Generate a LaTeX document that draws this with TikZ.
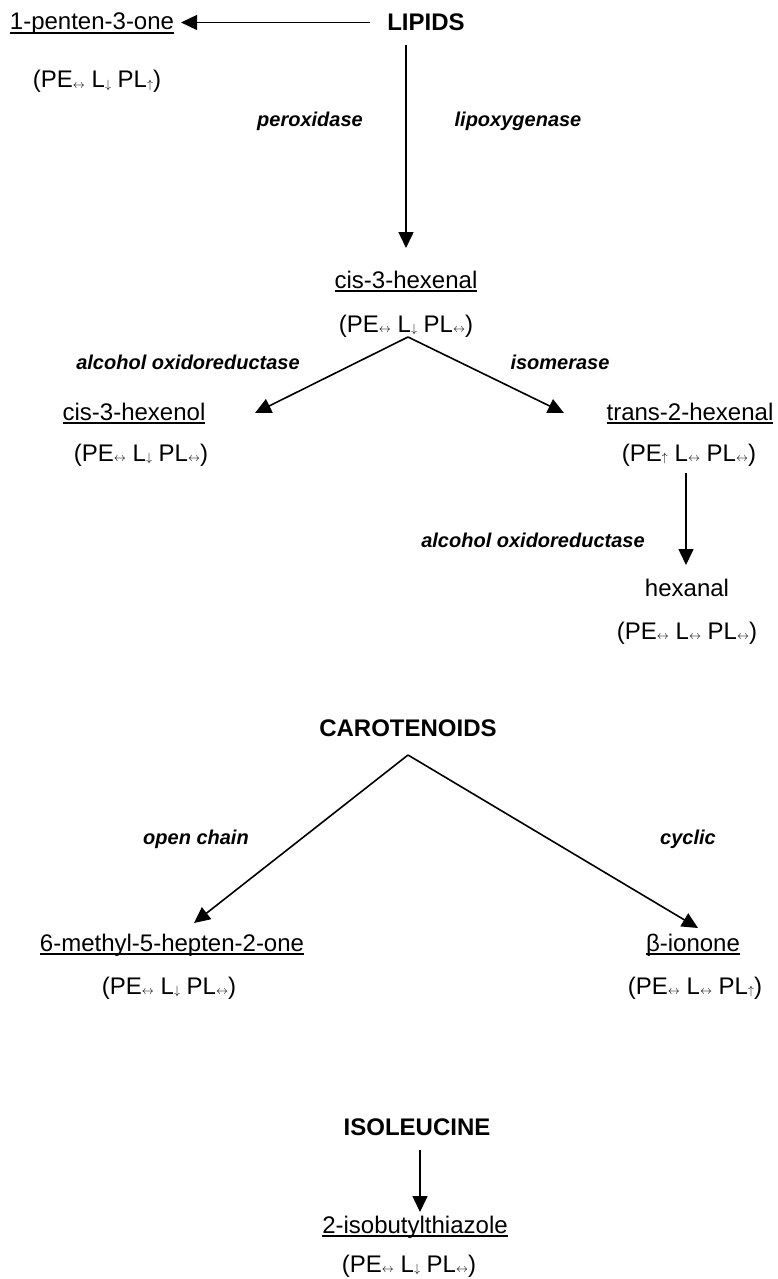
\documentclass[tikz,border=0pt]{standalone}
\usepackage{fontspec}
\setmainfont{Liberation Sans}
\usetikzlibrary{arrows.meta,calc}
\newcommand\ulx[1]{\setbox0=\hbox{#1}\rlap{\rule[-3.8pt]{\wd0}{1.8pt}}\box0}
\newcommand\sbx[1]{\raisebox{-0.5pt}{\fontsize{12}{12}\selectfont$#1$}}
\newcommand\PEx[3]{(PE\sbx{#1} L\sbx{#2} PL\sbx{#3})}
\newcommand\LR{\leftrightarrow}
\newcommand\DN{\downarrow}
\newcommand\UP{\uparrow}
\begin{document}
\begin{tikzpicture}[x=1pt,y=-1pt,
  every node/.style={inner sep=0pt, outer sep=0pt, anchor=base, text height=17pt, text depth=5pt},
  chem/.style={font=\fontsize{24}{28}\selectfont},
  src/.style={font=\fontsize{24}{28}\selectfont\bfseries},
  enz/.style={font=\fontsize{20}{24}\selectfont\bfseries\itshape},
  arr/.style={line width=1.6pt, -{Triangle[length=16pt,width=15pt]}}]
\useasboundingbox (0,0) rectangle (778,1279);
\node[chem] (pent) at (92,30) {\ulx{1-penten-3-one}};
\node[src] (lipids) at (426,31) {LIPIDS};
\node[chem] (pe1) at (97,88) {\PEx{\LR}{\DN}{\UP}};
\node[enz] (perox) at (310,127) {peroxidase};
\node[enz] (lipox) at (518,127) {lipoxygenase};
\node[chem] (hexenal) at (406,288) {\ulx{cis-3-hexenal}};
\node[chem] (pe2) at (406,332) {\PEx{\LR}{\DN}{\LR}};
\node[enz] (aor1) at (188,369) {alcohol oxidoreductase};
\node[enz] (isom) at (560,369) {isomerase};
\node[chem] (hexenol) at (134,420) {\ulx{cis-3-hexenol}};
\node[chem] (t2h) at (690,420) {\ulx{trans-2-hexenal}};
\node[chem] (pe3) at (141,461) {\PEx{\LR}{\DN}{\LR}};
\node[chem] (pe4) at (689,461) {\PEx{\UP}{\LR}{\LR}};
\node[enz] (aor2) at (533,547) {alcohol oxidoreductase};
\node[chem] (hexanal) at (687,596) {hexanal};
\node[chem] (pe5) at (687,639) {\PEx{\LR}{\LR}{\LR}};
\node[src] (carot) at (408,736) {CAROTENOIDS};
\node[enz] (open) at (196,844) {open chain};
\node[enz] (cyc) at (688,844) {cyclic};
\node[chem] (mhep) at (172,951) {\ulx{6-methyl-5-hepten-2-one}};
\node[chem] (ion) at (693,951) {\ulx{β-ionone}};
\node[chem] (pe6) at (169,994) {\PEx{\LR}{\DN}{\LR}};
\node[chem] (pe7) at (695,994) {\PEx{\LR}{\LR}{\UP}};
\node[src] (isol) at (417,1135) {ISOLEUCINE};
\node[chem] (ibt) at (415,1233) {\ulx{2-isobutylthiazole}};
\node[chem] (pe8) at (409,1272) {\PEx{\LR}{\DN}{\LR}};
% connectors
\draw[arr, shorten <=17pt, shorten >=7pt] ($(lipids.west)+(0,-2.5)$) -- ($(lipids.west -| pent.east)+(0,-2.5)$);
\draw[arr, shorten <=9pt, shorten >=23pt] (hexenal.north |- lipids.south) -- (hexenal.north);
\draw[arr] ($(pe2.south)+(2,0)$) -- ($(hexenol.center)+(121,-1)$);
\draw[arr] ($(pe2.south)+(2,0)$) -- ($(t2h.center)+(-126,-1)$);
\draw[arr, shorten <=7pt, shorten >=14pt] ($(pe4.south)+(-3,0)$) -- ($(pe4.south |- hexanal.north)+(-3,0)$);
\draw[arr] ($(carot.south)+(0,14)$) -- ($(mhep.center)+(22,-22)$);
\draw[arr] ($(carot.south)+(0,14)$) -- ($(ion.center)+(5,-17)$);
\draw[arr, shorten <=10pt, shorten >=4pt] ($(isol.south)+(3,0)$) -- ($(isol.south |- ibt.north)+(3,0)$);
\end{tikzpicture}
\end{document}
